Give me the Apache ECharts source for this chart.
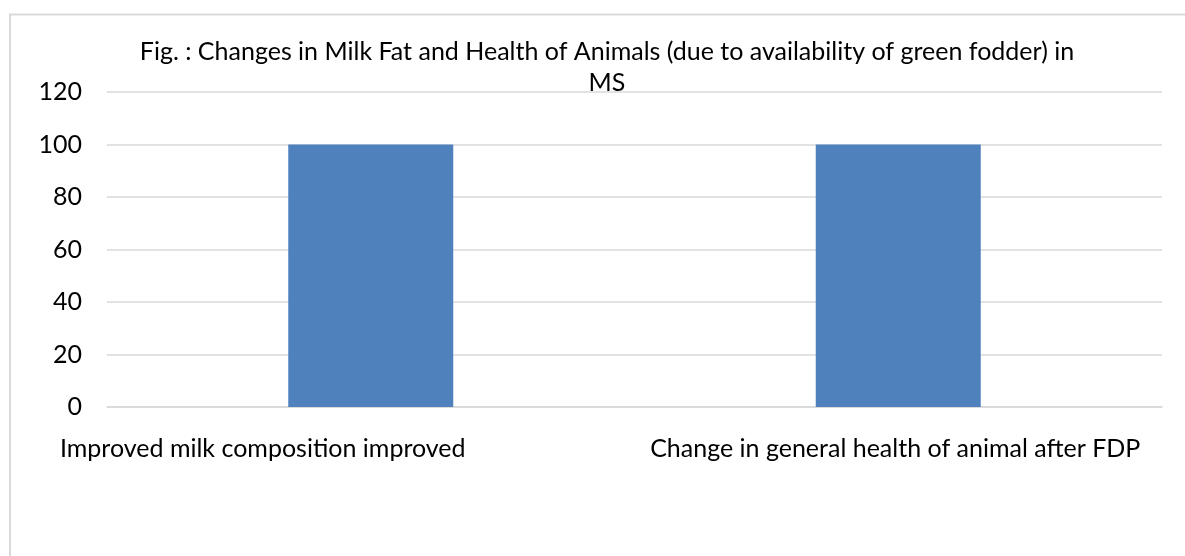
<!DOCTYPE html>
<html>
<head>
<meta charset="utf-8">
<script src="https://cdn.jsdelivr.net/npm/echarts@6/dist/echarts.min.js"></script>
<style>
  html, body { margin: 0; padding: 0; background: #fff; }
  #chart { width: 1185px; height: 556px; }
</style>
</head>
<body>
<div id="chart"></div>
<script>
// Survey results: share of respondents (%) reporting each change
const titleText = 'Fig. : Changes in Milk Fat and Health of Animals (due to availability of green fodder) in\nMS';
const categories = [
  'Improved milk composition improved',
  'Change in general health of animal after FDP'
];
const values = [100, 100];
const yTicks = { min: 0, max: 120, step: 20 };

const FONT = 'Lato';
const SIZE = 25;
const chart = echarts.init(document.getElementById('chart'), null, { renderer: 'canvas' });

chart.setOption({
  backgroundColor: '#ffffff',
  animation: false,
  title: {
    text: titleText,
    left: 602,
    top: 31,
    textAlign: 'center',
    textStyle: {
      fontFamily: FONT,
      fontSize: SIZE,
      fontWeight: 'normal',
      color: '#000',
      lineHeight: 31
    }
  },
  graphic: [{
    type: 'rect',
    silent: true,
    z: -1,
    shape: { x: 10, y: 14.5, width: 1250, height: 700 },
    style: { fill: null, stroke: '#d9d9d9', lineWidth: 2 }
  }],
  grid: { left: 107, right: 23, top: 92, bottom: 149 },
  xAxis: {
    type: 'category',
    data: categories,
    axisTick: { show: false },
    axisLine: { lineStyle: { color: '#d9d9d9', width: 1.5 } },
    axisLabel: {
      interval: 0,
      margin: 29,
      color: '#000',
      fontFamily: FONT,
      fontSize: SIZE,
      formatter: (v, i) => (i === 0 ? '{a|' + v + '}' : '{b|' + v + '}'),
      rich: {
        a: { fontFamily: FONT, fontSize: SIZE, color: '#000', padding: [0, 216, 0, 0] },
        b: { fontFamily: FONT, fontSize: SIZE, color: '#000', padding: [0, 6, 0, 0] }
      }
    }
  },
  yAxis: {
    type: 'value',
    min: yTicks.min,
    max: yTicks.max,
    interval: yTicks.step,
    axisLine: { show: false },
    axisTick: { show: false },
    splitLine: { lineStyle: { color: '#d9d9d9', width: 1.5 } },
    axisLabel: {
      margin: 25,
      color: '#000',
      fontFamily: FONT,
      fontSize: SIZE
    }
  },
  series: [{
    type: 'bar',
    data: values,
    barWidth: 165,
    itemStyle: { color: '#4f81bd' }
  }]
});
</script>
</body>
</html>
